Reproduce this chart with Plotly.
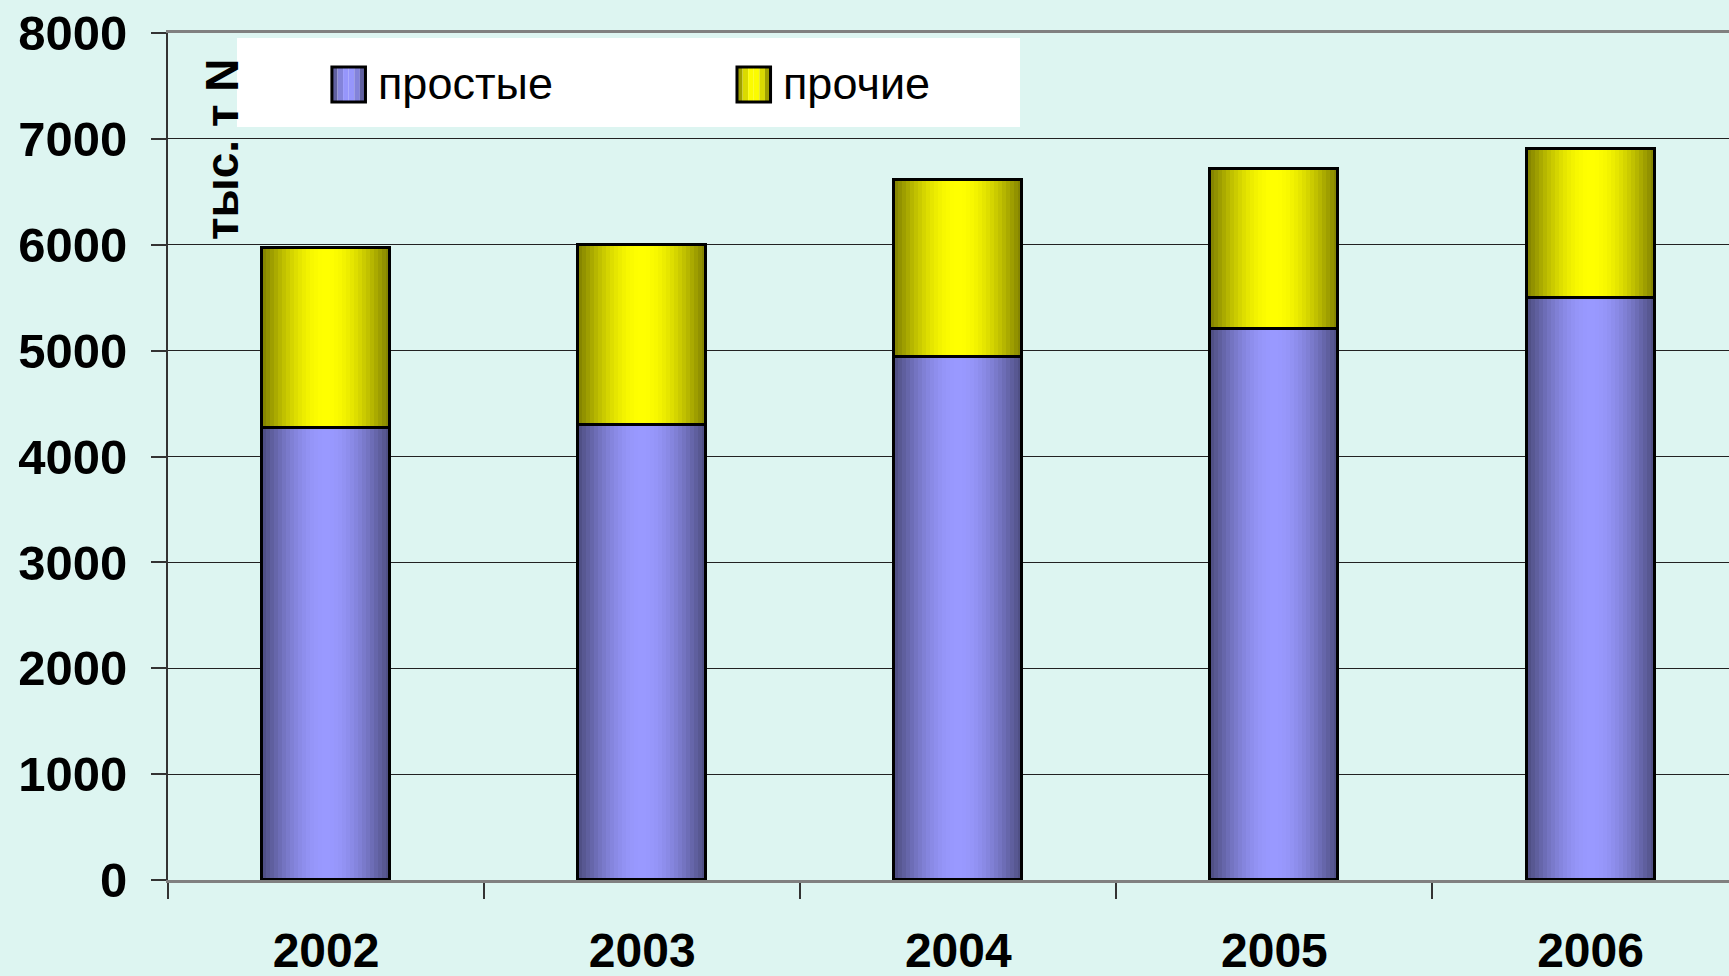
import math
import plotly.graph_objects as go

# data
years = ["2002", "2003", "2004", "2005", "2006"]
prostye = [4270, 4300, 4940, 5200, 5500]
prochie = [1700, 1700, 1670, 1520, 1400]
series_names = ["простые", "прочие"]
y_title = "тыс. т N"

BG = "#DDF5F1"
FONT = "Liberation Sans, Arial, sans-serif"
PURPLE = (153, 153, 255)
YELLOW = (255, 255, 0)
BAR_W = 0.405
N_STRIPES = 32


def shade(rgb, t):
    # dark at the edges, bright in the middle -> cylinder look
    f = 0.5 + 0.5 * math.sin(math.pi * t)
    return "rgb(%d,%d,%d)" % tuple(round(c * f) for c in rgb)


fig = go.Figure()

# gradient stripes for each stacked segment
for values, base, rgb in [(prostye, None, PURPLE), (prochie, prostye, YELLOW)]:
    for i in range(N_STRIPES):
        t = (i + 0.5) / N_STRIPES
        fig.add_trace(go.Bar(
            x=years, y=values, base=base,
            width=BAR_W / N_STRIPES * 1.2,
            offset=-BAR_W / 2 + i * BAR_W / N_STRIPES,
            marker=dict(color=shade(rgb, t), line=dict(width=0)),
            showlegend=False, hoverinfo="skip",
        ))

# black outlines on top
for name, values, base in [(series_names[0], prostye, None), (series_names[1], prochie, prostye)]:
    fig.add_trace(go.Bar(
        x=years, y=values, base=base, name=name,
        width=BAR_W, offset=-BAR_W / 2,
        marker=dict(color="rgba(0,0,0,0)", line=dict(color="black", width=3)),
        showlegend=False,
    ))

# hand-made legend box (big square markers like the original)
shapes = [dict(type="rect", xref="paper", yref="paper", x0=0.0442, x1=0.5458, y0=0.889, y1=0.994,
               fillcolor="white", line=dict(width=0), layer="above")]
annotations = []
legend_items = [(series_names[0], PURPLE, 0.105, 0.1335), (series_names[1], YELLOW, 0.3645, 0.393)]
for name, rgb, mx, tx in legend_items:
    mw = 0.0215
    n = 6
    for i in range(n):
        shapes.append(dict(type="rect", xref="paper", yref="paper",
                           x0=mx + mw * i / n, x1=mx + mw * (i + 1) / n, y0=0.9185, y1=0.9599,
                           fillcolor=shade(rgb, (i + 0.5) / n), line=dict(width=0), layer="above"))
    shapes.append(dict(type="rect", xref="paper", yref="paper", x0=mx, x1=mx + mw, y0=0.9185, y1=0.9599,
                       fillcolor="rgba(0,0,0,0)", line=dict(color="black", width=3), layer="above"))
    annotations.append(dict(text=name, xref="paper", yref="paper", x=tx, y=0.94,
                            xanchor="left", yanchor="middle", showarrow=False,
                            font=dict(family=FONT, size=45, color="black")))

# rotated unit label inside the plot area
annotations.append(dict(text=y_title, xref="paper", yref="paper", x=0.0346, y=0.971,
                        xanchor="center", yanchor="top", textangle=-90, showarrow=False,
                        font=dict(family=FONT, size=46, color="black", weight="bold")))

fig.update_layout(
    width=1729, height=976,
    margin=dict(l=168, r=0, t=33, b=96),
    paper_bgcolor=BG, plot_bgcolor=BG,
    barmode="overlay", bargap=0,
    showlegend=False,
    font=dict(family=FONT, color="black"),
    shapes=shapes, annotations=annotations,
)

fig.update_xaxes(
    type="category", range=[-0.5, 4.438],
    showgrid=False, tickson="boundaries",
    ticks="outside", ticklen=16, tickcolor="#333", tickwidth=1.5,
    showline=True, linecolor="#808080", linewidth=3, mirror=True,
    tickfont=dict(family=FONT, size=48, weight="bold"),
    ticklabelstandoff=26,
)
fig.update_yaxes(
    range=[0, 8000], dtick=1000, tickformat="d",
    showgrid=True, gridcolor="#222", gridwidth=1, zeroline=False,
    ticks="outside", ticklen=15, tickcolor="#333", tickwidth=1.5,
    showline=True, linecolor="#333", linewidth=2,
    tickfont=dict(family=FONT, size=49, weight="bold"),
    ticklabelstandoff=14,
)

fig.write_html("out.html", config={"displayModeBar": False},
               post_script="document.body.style.margin='0';document.body.style.overflow='hidden';")
